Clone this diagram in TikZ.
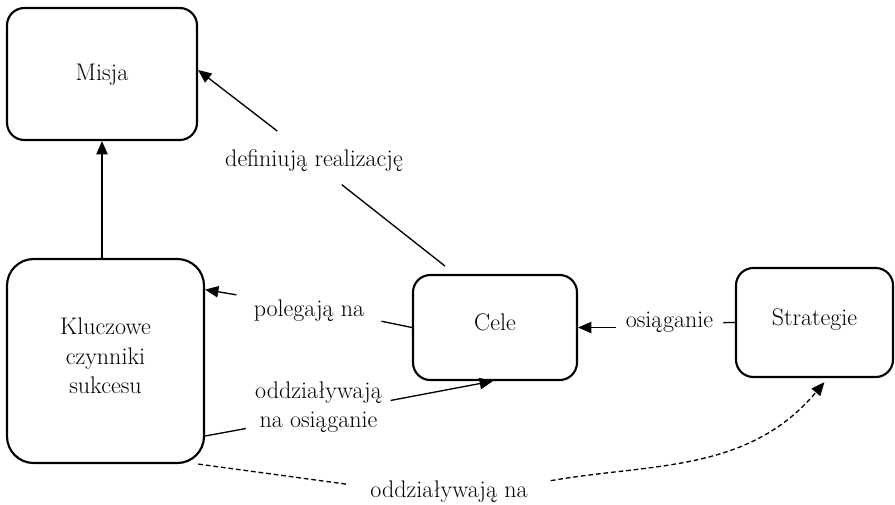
\documentclass[tikz,border=0pt]{standalone}
\usepackage{fontspec}
\usetikzlibrary{arrows.meta}

\tikzset{
  box/.style={draw, line width=1.6pt, rounded corners=13pt, align=center, text depth=8pt, inner sep=0pt},
  lbl/.style={inner sep=0pt, align=center},
  conn/.style={line width=1pt},
  arr/.style={conn, -{Triangle[length=10pt,width=8.5pt]}},
  darr/.style={arr, dash pattern=on 3.5pt off 2.2pt},
}

\begin{document}
\begin{tikzpicture}[x=0.75pt, y=-0.75pt, font=\fontsize{18}{22}\selectfont]
          \useasboundingbox (0,0) rectangle (895,504);

          % boxes
          \node[box, minimum width=142.5pt, minimum height=99pt, text depth=3pt] (misja) at (102,74) {Misja};
          \node[box, rounded corners=20pt, minimum width=147.75pt, minimum height=153pt] (kcs) at (105.5,361) {Kluczowe\\czynniki\\sukcesu};
          \node[box, minimum width=123pt, minimum height=78.75pt] (cele) at (495,327.5) {Cele};
          \node[box, minimum width=117.75pt, minimum height=81.75pt] (strategie) at (814.5,322.5) {Strategie};

          % labels
          \node[lbl] (lblDef) at (314,161) {definiują realizację};
          \node[lbl] (lblPol) at (309,310.4) {polegają na};
          \node[lbl] (lblOsi) at (669.5,322.7) {osiąganie};
          \node[lbl] (lblOdd) at (318.5,407) {oddziaływają\\na osiąganie};
          \node[lbl] (lblOddNa) at (449,491.4) {oddziaływają na};

          \draw [arr] (misja.south |- kcs.north) -- (misja.south);

          \draw [conn, shorten <=9.6pt, shorten >=15pt] ([xshift=-30pt]cele.north) -- ([xshift=9pt]lblDef.south);
          \draw [arr, shorten <=23pt] ([xshift=-9.3pt]lblDef.north) -- ([yshift=3pt]misja.east);

          \draw [conn, shorten >=13pt] (cele.west) -- ([yshift=-5.5pt]lblPol.east);
          \draw [arr, shorten <=13pt] ([yshift=9.5pt]lblPol.west) -- ([yshift=53.6pt]kcs.east);

          \draw [conn, shorten <=7.5pt] (lblOsi.east) -- (strategie.west);
          \draw [arr, shorten <=7pt] (lblOsi.west |- cele.east) -- (cele.east);

          \draw [conn, shorten >=7pt] ([yshift=-56.25pt]kcs.east) -- ([yshift=-14.9pt]lblOdd.west);
          \draw [arr, shorten <=6.5pt] ([yshift=3.7pt]lblOdd.east) -- ([xshift=-1.5pt]cele.south);

          \draw [conn, dash pattern=on 3.5pt off 2.2pt, shorten >=17.5pt] (kcs.-48) -- ([yshift=3pt]lblOddNa.west);
          \draw [darr, shorten <=17.5pt, shorten >=4pt] ([yshift=5pt]lblOddNa.east) to[out=10, in=-130] ([xshift=10pt]strategie.south);

\end{tikzpicture}
\end{document}
